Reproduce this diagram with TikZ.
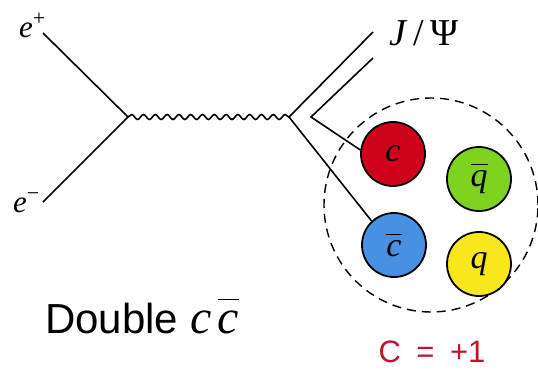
\documentclass[tikz,border=0pt]{standalone}
\usepackage{fontspec}
\newfontfamily\lsans{Liberation Sans}
\newfontfamily\lserif{Liberation Serif}
\usetikzlibrary{decorations.pathmorphing}
\definecolor{qred}{HTML}{D0021B}
\definecolor{qgreen}{HTML}{7ED321}
\definecolor{qblue}{HTML}{4A90E2}
\definecolor{qyellow}{HTML}{F8E71C}
\definecolor{ctext}{HTML}{C8102E}
\newcommand\barred[2][0.62em]{\ensuremath{\overline{\hbox{\raisebox{0pt}[#1]{#2}}}}}
\tikzset{
  fline/.style={line width=1.6pt, black},
  qball/.style={circle, draw=black, line width=1.8pt, minimum size=64pt, inner sep=0pt, font=\lserif\itshape\fontsize{34}{38}\selectfont},
  lbl/.style={inner sep=0pt},
}
\begin{document}
\begin{tikzpicture}[x=1pt,y=-1pt]
\useasboundingbox (0,0) rectangle (538,370);
% vertices and free ends
\coordinate (v1) at (128,117);
\coordinate (v2) at (289,117);
\coordinate (ep) at (43,33);
\coordinate (em) at (43,202);
\coordinate (j1) at (373,32);
\coordinate (k) at (311,117);
\coordinate (j2) at (373,58);
% dashed hadron circle
\node[circle, draw=black, line width=1.4pt, dash pattern=on 9pt off 6pt, minimum size=214pt, inner sep=0pt] (had) at (431,205) {};
% quarks
\node[qball, fill=qred] (c) at (393,154) {c};
\node[qball, fill=qgreen] (qb) at (479,179) {\barred{q}};
\node[qball, fill=qblue] (cb) at (394,245) {\barred{c}};
\node[qball, fill=qyellow] (q) at (479,264) {q};
% lines
\draw[fline] (ep) -- (v1) -- (em);
\draw[fline, decorate, decoration={snake, segment length=11.8pt, amplitude=2.5pt}] (v1) -- (v2);
\draw[fline] (j1) -- (v2) -- (cb.133);
\draw[fline] (j2) -- (k) -- (c.173);
% labels
\node[lbl, anchor=base west, font=\lserif\itshape\fontsize{31}{34}\selectfont] (lep) at (19,37) {e\raisebox{0.38em}{\upshape\fontsize{22}{22}\selectfont +}};
\node[lbl, anchor=base west, font=\lserif\itshape\fontsize{31}{34}\selectfont] (lem) at (13,212) {e\raisebox{0.38em}{\upshape\fontsize{22}{22}\selectfont −}};
\node[lbl, anchor=base, font=\lserif\fontsize{38}{42}\selectfont] (ljp) at (424,45) {\textit{J}\,/\,Ψ};
\node[lbl, anchor=base west, font=\lsans\fontsize{42}{46}\selectfont] (ldbl) at (45,333) {Double\hspace{0.3em}{\lserif\itshape\fontsize{48}{52}\selectfont c\hspace{0.12em}\barred[0.68em]{c}}};
\node[lbl, anchor=base, text=ctext, font=\lsans\fontsize{31}{34}\selectfont] (lC) at (432,362) {C\hspace{0.5em}=\hspace{0.5em}+1};
\end{tikzpicture}
\end{document}
